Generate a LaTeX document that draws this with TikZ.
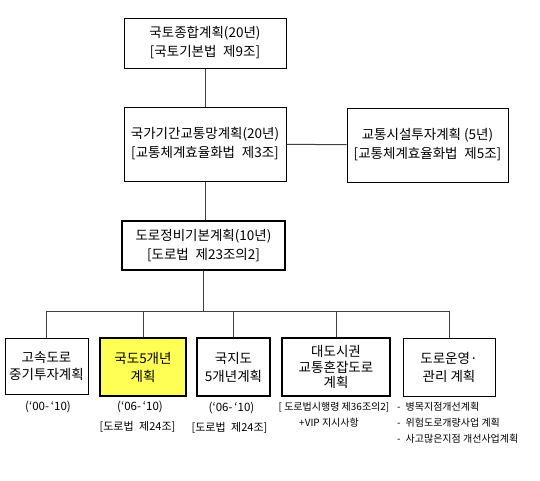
\documentclass[tikz,border=0pt]{standalone}
\usepackage{fontspec}
\setmainfont{Noto Sans CJK KR}

\begin{document}
\begin{tikzpicture}[x=1pt, y=-1pt,
    plan/.style={draw=black, line width=1pt, align=center, inner sep=0pt,
        font=\fontsize{13.5}{19}\selectfont},
    keyplan/.style={plan, line width=2pt},
    link/.style={draw=black!75, line width=1pt},
    year/.style={inner sep=0pt, font=\fontsize{11.5}{12}\selectfont},
    law/.style={inner sep=0pt, font=\fontsize{11}{12}\selectfont},
    memo/.style={inner sep=0pt, font=\fontsize{10}{10}\selectfont}]
    \useasboundingbox (0,0) rectangle (540,480);
    % Upper plans
        \node[plan, minimum width=162pt, minimum height=50pt] (land) at (205,43)
            {국토종합계획(20년)\\{[}국토기본법\enspace 제9조{]}};
        \node[plan, minimum width=162pt, minimum height=74pt] (nat) at (205,144)
            {국가기간교통망계획(20년)\\{[}교통체계효율화법\enspace 제3조{]}};
        \node[plan, minimum width=161pt, minimum height=74pt] (inv) at (427.5,145)
            {교통시설투자계획 (5년)\\{[}교통체계효율화법\enspace 제5조{]}};
        \node[keyplan, minimum width=163pt, minimum height=49pt] (road) at (203.5,245.5)
            {도로정비기본계획(10년)\\{[}도로법\enspace 제23조의2{]}};
    % Lower plans
        \node[plan, minimum width=83pt, minimum height=56pt, font=\fontsize{13.5}{17}\selectfont] (hwy) at (46.5,366)
            {고속도로\\중기투자계획};
        \node[keyplan, fill={rgb,255:red,255;green,255;blue,85}, minimum width=86pt, minimum height=58pt,
            font=\fontsize{13.5}{18}\selectfont] (natroad) at (143,367) {국도5개년\\계획};
        \node[keyplan, minimum width=73pt, minimum height=58pt, font=\fontsize{13.5}{18}\selectfont] (local) at (233.5,367)
            {국지도\\5개년계획};
        \node[keyplan, minimum width=108pt, minimum height=58pt, font=\fontsize{13.5}{15.5}\selectfont] (metro) at (336,367)
            {대도시권\\교통혼잡도로\\계획};
        \node[plan, minimum width=92pt, minimum height=58pt, font=\fontsize{13.5}{18}\selectfont] (manage) at (449,367)
            {도로운영·\\관리 계획};
    % Connectors between the plans
        \draw[link] (land) -- (nat);
        \draw[link] (nat) -- (inv);
        \draw[link] (nat.south) -- (nat.south |- road.north);
        \coordinate (bus) at (204,311);
        \draw[link] (road.south) -- (road.south |- bus);
        \foreach \k in {hwy,natroad,local,metro,manage}
            \draw[link] (road.south |- bus) -| (\k.north);
    % Below nodes are the notes under the lower plans.
        \node[year] (hwyyr) at (48,407) {(‘00-\,‘10)};
        \node[year] (natyr) at (140,407) {(‘06-\,‘10)};
        \node[law] (natlaw) at (137.5,427) {{[}도로법\enspace 제24조{]}};
        \node[year] (localyr) at (231.5,408) {(‘06-\,‘10)};
        \node[law] (locallaw) at (229.5,428) {{[}도로법\enspace 제24조{]}};
        \node[memo] (metrolaw) at (334,407) {{[} 도로법시행령 제36조의2{]}};
        \node[memo] (metrovip) at (329,423) {+VIP 지시사항};
        \node[memo, anchor=west] (item1) at (397,407) {-\enspace 병목지점개선계획};
        \node[memo, anchor=west] (item2) at (397,423) {-\enspace 위험도로개량사업 계획};
        \node[memo, anchor=west] (item3) at (397,439) {-\enspace 사고많은지점 개선사업계획};
\end{tikzpicture}
\end{document}
